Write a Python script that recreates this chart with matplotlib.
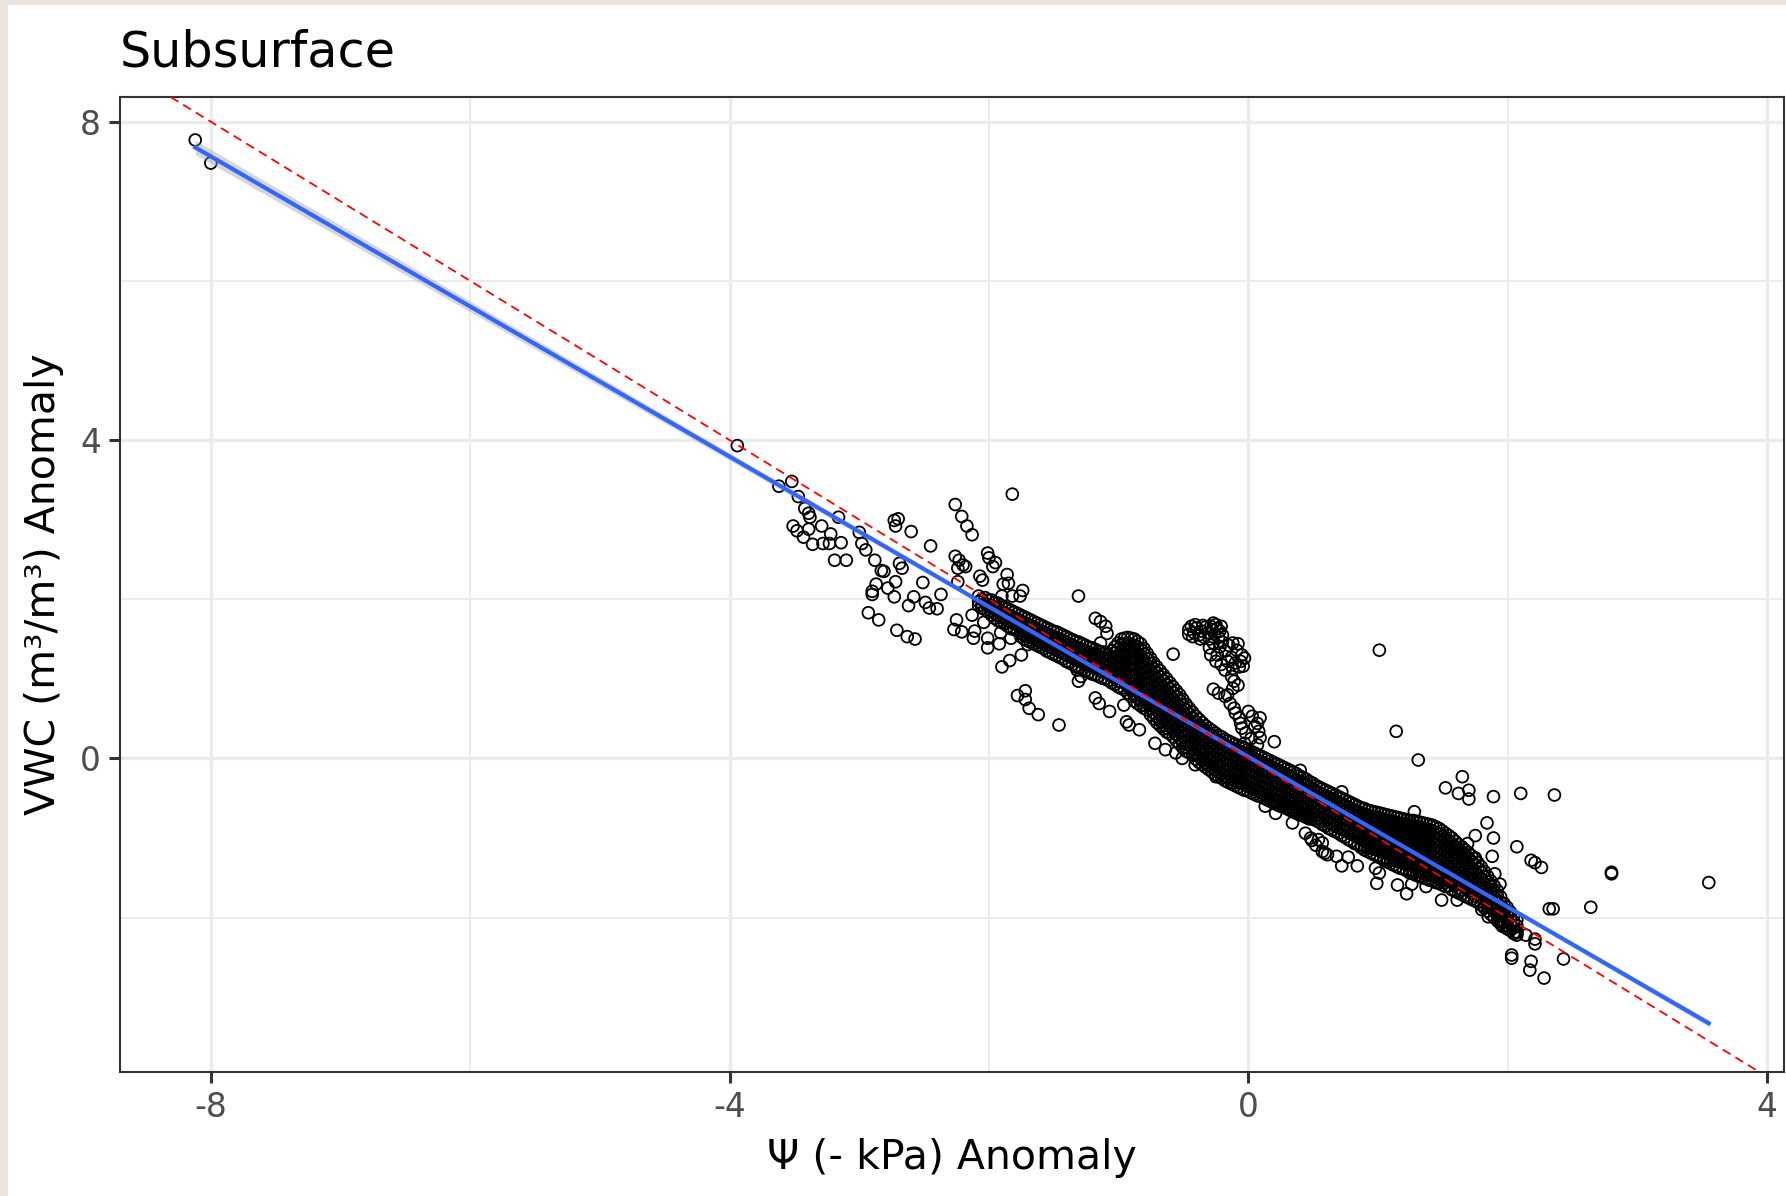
import numpy as np
import matplotlib.pyplot as plt
from matplotlib.patches import Rectangle

plt.rcParams['axes.unicode_minus'] = False

# ---- data (psi anomaly, vwc anomaly) ----

# two points far to the left
far_left = [(-8.12, 7.77), (-8.00, 7.48)]

# loose points in the upper left part of the cloud
upper_left = [
    (-3.94, 3.93),
    (-3.62, 3.42), (-3.52, 3.48), (-3.47, 3.29), (-3.42, 3.14), (-3.39, 3.08), (-3.38, 3.03),
    (-3.16, 3.03), (-3.51, 2.92), (-3.48, 2.86), (-3.43, 2.78), (-3.36, 2.69), (-3.28, 2.70),
    (-3.23, 2.70), (-3.22, 2.82), (-3.14, 2.71), (-3.19, 2.49), (-3.10, 2.49), (-3.39, 2.88),
    (-3.29, 2.92), (-3.00, 2.84), (-2.98, 2.70), (-2.95, 2.62), (-2.88, 2.49),
    (-2.73, 2.99), (-2.72, 2.92), (-2.70, 3.01), (-2.60, 2.85), (-2.45, 2.67),
    (-2.81, 2.35), (-2.83, 2.36), (-2.72, 2.22), (-2.78, 2.14), (-2.73, 2.03), (-2.67, 2.39),
    (-2.69, 2.45), (-2.87, 2.19), (-2.90, 2.10), (-2.90, 2.06),
    (-2.51, 2.21), (-2.58, 2.03), (-2.62, 1.92), (-2.49, 1.96), (-2.46, 1.89), (-2.40, 1.88),
    (-2.37, 2.06), (-2.93, 1.83), (-2.85, 1.74), (-2.71, 1.61), (-2.63, 1.53), (-2.57, 1.50),
    (-2.26, 3.19), (-2.21, 3.04), (-2.17, 2.92), (-2.13, 2.81), (-1.82, 3.32),
    (-2.26, 2.54), (-2.23, 2.49), (-2.24, 2.39), (-2.18, 2.41), (-2.20, 2.43), (-2.24, 2.22),
    (-2.07, 2.29), (-2.05, 2.24), (-2.01, 2.58), (-1.97, 2.41), (-2.00, 2.52), (-1.95, 2.46),
    (-1.86, 2.31), (-1.89, 2.19), (-1.85, 2.20), (-1.82, 2.04), (-1.90, 2.04), (-1.74, 2.11),
    (-1.76, 2.04), (-2.25, 1.74), (-2.27, 1.62), (-2.21, 1.59), (-2.13, 1.80), (-2.11, 1.60),
    (-2.12, 1.51), (-2.04, 1.71), (-2.01, 1.51), (-2.01, 1.39), (-1.91, 1.58), (-1.92, 1.44),
    (-1.83, 1.51), (-1.75, 1.30), (-1.70, 1.43), (-1.84, 1.23), (-1.90, 1.15),
    (-1.78, 0.79), (-1.72, 0.85), (-1.72, 0.74), (-1.69, 0.63), (-1.62, 0.55), (-1.46, 0.42),
    (-1.31, 2.04),
]

# loose points around the middle of the band
middle = [
    (-1.18, 1.76), (-1.14, 1.72), (-1.10, 1.66), (-1.09, 1.57), (-1.14, 1.45),
    (-1.32, 1.11), (-1.29, 1.03), (-1.31, 0.97), (-1.18, 0.76), (-1.15, 0.69), (-1.07, 0.59),
    (-0.96, 0.67), (-0.94, 0.46), (-0.92, 0.42), (-0.84, 0.36), (-0.72, 0.19), (-0.64, 0.11),
    (-0.56, 0.07), (-0.51, 0.00), (-0.41, -0.08), (-0.25, -0.23), (-0.12, -0.31),
    (0.13, -0.60), (0.21, -0.69), (0.34, -0.81),
    (-0.58, 1.31), (-0.27, 0.87), (0.20, 0.21), (0.40, -0.15), (0.44, -0.32), (0.72, -0.42),
    (1.01, 1.36), (1.14, 0.34),
]

# the knot of points sitting above the band near psi = -0.3
blob = [
    (-0.46, 1.62), (-0.44, 1.66), (-0.42, 1.58), (-0.40, 1.64), (-0.38, 1.55), (-0.36, 1.60),
    (-0.34, 1.52), (-0.33, 1.65), (-0.31, 1.58), (-0.29, 1.66), (-0.28, 1.62), (-0.26, 1.56),
    (-0.25, 1.68), (-0.24, 1.63), (-0.22, 1.60), (-0.21, 1.66), (-0.20, 1.55), (-0.46, 1.56),
    (-0.43, 1.53), (-0.37, 1.50), (-0.30, 1.50), (-0.23, 1.52), (-0.41, 1.68), (-0.35, 1.67),
    (-0.27, 1.70),
    (-0.12, 1.45), (-0.09, 1.36), (-0.05, 1.30), (-0.06, 1.22), (-0.07, 1.15), (-0.12, 1.13),
    (-0.18, 1.11), (-0.21, 1.18), (-0.25, 1.22), (-0.24, 1.30), (-0.29, 1.30), (-0.30, 1.39),
    (-0.27, 1.45), (-0.20, 1.46), (-0.15, 1.42), (-0.16, 1.22), (-0.13, 1.27), (-0.10, 1.20),
    (-0.18, 1.35), (-0.22, 1.40), (-0.08, 1.44), (-0.03, 1.26), (-0.04, 1.16),
]

# trail running down from the knot to the band
trail = [
    (-0.11, 0.97), (-0.12, 0.88), (-0.16, 0.80), (-0.18, 0.78), (-0.14, 0.69), (-0.11, 0.63),
    (-0.10, 0.57), (-0.07, 0.51), (-0.06, 0.44), (-0.05, 0.38), (-0.02, 0.32), (0.00, 0.59),
    (0.03, 0.53), (0.07, 0.44), (0.08, 0.34), (0.09, 0.26), (0.07, 0.17), (0.09, 0.51),
    (-0.03, 0.19), (-0.01, 0.07), (0.03, -0.02), (0.16, -0.08), (-0.23, 0.82), (-0.13, 1.03),
    (-0.08, 0.92), (0.05, 0.40), (0.02, 0.25),
]

# loose points on the right
right = [
    (1.31, -0.02), (1.28, -0.67), (1.52, -0.37), (1.65, -0.23), (1.62, -0.44), (1.70, -0.40),
    (1.70, -0.51), (1.89, -0.48), (2.10, -0.44), (2.36, -0.46), (1.84, -0.81), (1.89, -1.00),
    (1.75, -0.97), (2.07, -1.11), (1.69, -1.07), (1.88, -1.23), (1.75, -1.25), (1.90, -1.45),
    (1.94, -1.58), (2.18, -1.28), (2.21, -1.31), (2.26, -1.37), (2.80, -1.43), (2.80, -1.45),
    (2.32, -1.89), (2.35, -1.89), (2.64, -1.87), (2.21, -2.27), (2.21, -2.33), (2.03, -2.47),
    (2.03, -2.51), (2.18, -2.55), (2.17, -2.66), (2.28, -2.76), (2.43, -2.52), (3.55, -1.56),
    (0.44, -0.94), (0.48, -1.00), (0.52, -1.09), (0.54, -1.02), (0.57, -1.17), (0.61, -1.21),
    (0.68, -1.23), (0.77, -1.24), (0.72, -1.35), (0.84, -1.35), (0.98, -1.38), (1.01, -1.44),
    (0.99, -1.57), (1.15, -1.59), (1.22, -1.70), (1.26, -1.58), (1.37, -1.61), (1.49, -1.78),
    (1.61, -1.78), (0.59, -1.19), (0.49, -1.03), (0.57, -1.06),
    (1.80, -1.90), (1.85, -1.99), (1.93, -2.05), (1.96, -2.11), (2.01, -2.15), (2.07, -2.19),
    (2.14, -2.22),
]

# the dense band: one psi value per column, with the vwc values stacked in it
band_psi = [
    -2.08, -2.03, -1.98, -1.93, -1.88, -1.83, -1.78, -1.73, -1.68, -1.63, -1.58, -1.53,
    -1.48, -1.43, -1.38, -1.33, -1.28, -1.23, -1.18, -1.13, -1.08, -1.03, -0.98, -0.93,
    -0.88, -0.83, -0.78, -0.73, -0.68, -0.63, -0.58, -0.53, -0.48, -0.43, -0.38, -0.33,
    -0.28, -0.23, -0.18, -0.13, -0.08, -0.03, 0.02, 0.07, 0.12, 0.17, 0.22, 0.27,
    0.32, 0.37, 0.42, 0.47, 0.52, 0.57, 0.62, 0.67, 0.72, 0.77, 0.82, 0.87,
    0.92, 0.97, 1.02, 1.07, 1.12, 1.17, 1.22, 1.27, 1.32, 1.37, 1.42, 1.47,
    1.52, 1.57, 1.62, 1.67, 1.72, 1.77, 1.82, 1.87, 1.92, 1.97, 2.02, 2.07,
]
band_vwc = [
    [2.04, 1.97, 1.92],
    [2.02, 1.95, 1.87],
    [1.99, 1.92, 1.85, 1.80],
    [1.95, 1.88, 1.80, 1.73],
    [1.90, 1.83, 1.76, 1.69],
    [1.86, 1.79, 1.71, 1.63],
    [1.82, 1.75, 1.68, 1.60],
    [1.78, 1.71, 1.63, 1.55, 1.50],
    [1.74, 1.67, 1.59, 1.52, 1.46],
    [1.70, 1.62, 1.55, 1.48, 1.42],
    [1.66, 1.59, 1.52, 1.44, 1.38],
    [1.62, 1.55, 1.47, 1.40, 1.33],
    [1.59, 1.51, 1.44, 1.36, 1.29],
    [1.55, 1.48, 1.40, 1.32, 1.25],
    [1.51, 1.44, 1.36, 1.28, 1.20],
    [1.47, 1.40, 1.32, 1.24, 1.15],
    [1.44, 1.37, 1.29, 1.21, 1.12],
    [1.40, 1.33, 1.25, 1.17, 1.08],
    [1.37, 1.30, 1.22, 1.14, 1.05],
    [1.34, 1.27, 1.19, 1.10, 1.01],
    [1.31, 1.23, 1.15, 1.07, 0.98],
    [1.40, 1.33, 1.25, 1.17, 1.09, 1.01, 0.93],
    [1.50, 1.43, 1.35, 1.28, 1.20, 1.12, 1.04, 0.96, 0.88],
    [1.52, 1.45, 1.37, 1.30, 1.22, 1.14, 1.06, 0.98, 0.90, 0.82],
    [1.50, 1.42, 1.35, 1.27, 1.19, 1.11, 1.03, 0.95, 0.87, 0.79, 0.72],
    [1.44, 1.37, 1.29, 1.21, 1.13, 1.05, 0.97, 0.89, 0.81, 0.73, 0.66],
    [1.32, 1.25, 1.17, 1.09, 1.01, 0.93, 0.85, 0.77, 0.69, 0.61],
    [1.20, 1.13, 1.05, 0.97, 0.89, 0.81, 0.73, 0.65, 0.57, 0.50],
    [1.10, 1.03, 0.95, 0.87, 0.79, 0.71, 0.63, 0.55, 0.47, 0.41],
    [1.00, 0.93, 0.85, 0.77, 0.69, 0.61, 0.53, 0.45, 0.38, 0.33],
    [0.90, 0.83, 0.75, 0.67, 0.59, 0.51, 0.43, 0.35, 0.27],
    [0.80, 0.73, 0.65, 0.57, 0.49, 0.41, 0.33, 0.25, 0.18],
    [0.68, 0.61, 0.53, 0.45, 0.37, 0.29, 0.21, 0.14, 0.09],
    [0.58, 0.51, 0.43, 0.35, 0.27, 0.19, 0.11, 0.04],
    [0.49, 0.42, 0.34, 0.26, 0.18, 0.10, 0.02, -0.05],
    [0.41, 0.34, 0.26, 0.18, 0.10, 0.02, -0.06, -0.11],
    [0.35, 0.28, 0.20, 0.12, 0.04, -0.04, -0.11, -0.17],
    [0.29, 0.22, 0.14, 0.06, -0.02, -0.10, -0.17, -0.23],
    [0.24, 0.17, 0.09, 0.01, -0.07, -0.15, -0.22, -0.28],
    [0.20, 0.13, 0.05, -0.03, -0.11, -0.19, -0.26, -0.32],
    [0.16, 0.09, 0.01, -0.07, -0.15, -0.23, -0.30, -0.36],
    [0.13, 0.06, -0.02, -0.10, -0.18, -0.26, -0.33, -0.40],
    [0.09, 0.02, -0.06, -0.14, -0.22, -0.30, -0.37, -0.43],
    [0.05, -0.02, -0.10, -0.18, -0.26, -0.34, -0.41, -0.47],
    [0.01, -0.06, -0.14, -0.22, -0.30, -0.38, -0.45, -0.50],
    [-0.03, -0.10, -0.18, -0.26, -0.34, -0.42, -0.49, -0.54],
    [-0.07, -0.14, -0.22, -0.30, -0.38, -0.46, -0.53, -0.58],
    [-0.11, -0.18, -0.26, -0.34, -0.42, -0.50, -0.57, -0.61],
    [-0.15, -0.22, -0.30, -0.38, -0.46, -0.54, -0.61, -0.65],
    [-0.19, -0.27, -0.35, -0.43, -0.51, -0.59, -0.65, -0.69],
    [-0.24, -0.31, -0.39, -0.47, -0.55, -0.63, -0.69, -0.72],
    [-0.29, -0.36, -0.44, -0.52, -0.60, -0.68, -0.73, -0.76],
    [-0.34, -0.41, -0.49, -0.57, -0.65, -0.72, -0.78],
    [-0.38, -0.45, -0.53, -0.61, -0.69, -0.77, -0.83],
    [-0.42, -0.49, -0.57, -0.65, -0.73, -0.81, -0.88],
    [-0.46, -0.53, -0.61, -0.69, -0.77, -0.85, -0.92],
    [-0.50, -0.57, -0.65, -0.73, -0.81, -0.89, -0.97],
    [-0.54, -0.61, -0.69, -0.77, -0.85, -0.93, -1.02],
    [-0.58, -0.65, -0.73, -0.81, -0.89, -0.97, -1.07],
    [-0.62, -0.69, -0.77, -0.85, -0.93, -1.01, -1.09, -1.12],
    [-0.65, -0.72, -0.80, -0.88, -0.96, -1.04, -1.12, -1.17],
    [-0.67, -0.74, -0.82, -0.90, -0.98, -1.06, -1.14, -1.21],
    [-0.69, -0.76, -0.84, -0.92, -1.00, -1.08, -1.16, -1.25],
    [-0.71, -0.78, -0.86, -0.94, -1.02, -1.10, -1.18, -1.26, -1.30],
    [-0.73, -0.80, -0.88, -0.96, -1.04, -1.12, -1.20, -1.28, -1.34],
    [-0.75, -0.82, -0.90, -0.98, -1.06, -1.14, -1.22, -1.30, -1.38],
    [-0.77, -0.84, -0.92, -1.00, -1.08, -1.16, -1.24, -1.32, -1.41],
    [-0.78, -0.85, -0.93, -1.01, -1.09, -1.17, -1.25, -1.33, -1.41, -1.45],
    [-0.80, -0.87, -0.95, -1.03, -1.11, -1.19, -1.27, -1.35, -1.43, -1.48],
    [-0.82, -0.89, -0.97, -1.05, -1.13, -1.21, -1.29, -1.37, -1.45, -1.51],
    [-0.84, -0.91, -0.99, -1.07, -1.15, -1.23, -1.31, -1.39, -1.47, -1.54],
    [-0.88, -0.95, -1.03, -1.11, -1.19, -1.27, -1.35, -1.43, -1.51, -1.57],
    [-0.94, -1.01, -1.09, -1.17, -1.25, -1.33, -1.41, -1.49, -1.56, -1.61],
    [-1.00, -1.07, -1.15, -1.23, -1.31, -1.39, -1.47, -1.55, -1.65],
    [-1.08, -1.15, -1.23, -1.31, -1.39, -1.47, -1.55, -1.63, -1.69],
    [-1.15, -1.22, -1.30, -1.38, -1.46, -1.54, -1.62, -1.73],
    [-1.22, -1.29, -1.37, -1.45, -1.53, -1.61, -1.69, -1.77],
    [-1.31, -1.38, -1.46, -1.54, -1.62, -1.70, -1.81],
    [-1.42, -1.49, -1.57, -1.65, -1.73, -1.81, -1.88],
    [-1.54, -1.61, -1.69, -1.77, -1.85, -1.96],
    [-1.66, -1.73, -1.81, -1.89, -1.97, -2.04],
    [-1.82, -1.89, -1.97, -2.05, -2.11],
    [-1.93, -2.00, -2.08, -2.16],
    [-2.03, -2.10, -2.18, -2.22],
]

# a second set of band columns lying between the first ones
band2_psi = [
    -2.055, -2.005, -1.955, -1.905, -1.855, -1.805, -1.755, -1.705, -1.655, -1.605, -1.555,
    -1.505, -1.455, -1.405, -1.355, -1.305, -1.255, -1.205, -1.155, -1.105, -1.055, -1.005,
    -0.955, -0.905, -0.855, -0.805, -0.755, -0.705, -0.655, -0.605, -0.555, -0.505, -0.455,
    -0.405, -0.355, -0.305, -0.255, -0.205, -0.155, -0.105, -0.055, -0.005, 0.045, 0.095,
    0.145, 0.195, 0.245, 0.295, 0.345, 0.395, 0.445, 0.495, 0.545, 0.595, 0.645,
    0.695, 0.745, 0.795, 0.845, 0.895, 0.945, 0.995, 1.045, 1.095, 1.145, 1.195,
    1.245, 1.295, 1.345, 1.395, 1.445, 1.495, 1.545, 1.595, 1.645, 1.695, 1.745,
    1.795, 1.845, 1.895, 1.945, 1.995, 2.045,
]
band2_vwc = [
    [2.00, 1.93, 1.89],
    [1.99, 1.91, 1.84],
    [1.96, 1.89, 1.82, 1.76],
    [1.92, 1.85, 1.77, 1.71],
    [1.88, 1.80, 1.73, 1.66],
    [1.84, 1.76, 1.69, 1.62],
    [1.80, 1.72, 1.65, 1.58, 1.53],
    [1.76, 1.69, 1.61, 1.54, 1.48],
    [1.72, 1.65, 1.57, 1.50, 1.44],
    [1.68, 1.61, 1.53, 1.46, 1.40],
    [1.64, 1.57, 1.49, 1.42, 1.35],
    [1.60, 1.53, 1.45, 1.38, 1.31],
    [1.57, 1.50, 1.42, 1.34, 1.27],
    [1.53, 1.46, 1.38, 1.30, 1.22],
    [1.49, 1.42, 1.34, 1.26, 1.18],
    [1.46, 1.38, 1.30, 1.22, 1.14],
    [1.42, 1.35, 1.27, 1.19, 1.10],
    [1.39, 1.31, 1.23, 1.15, 1.06],
    [1.35, 1.28, 1.20, 1.12, 1.03],
    [1.32, 1.25, 1.17, 1.08, 1.00],
    [1.35, 1.27, 1.19, 1.11, 1.03, 0.95],
    [1.45, 1.37, 1.29, 1.21, 1.13, 1.05, 0.97, 0.90],
    [1.51, 1.44, 1.36, 1.28, 1.20, 1.12, 1.04, 0.96, 0.86],
    [1.51, 1.43, 1.35, 1.27, 1.19, 1.11, 1.03, 0.95, 0.87, 0.78],
    [1.47, 1.40, 1.32, 1.24, 1.16, 1.08, 1.00, 0.92, 0.84, 0.76, 0.69],
    [1.38, 1.31, 1.23, 1.15, 1.07, 0.99, 0.91, 0.83, 0.75, 0.67, 0.63],
    [1.26, 1.19, 1.11, 1.03, 0.95, 0.87, 0.79, 0.71, 0.63, 0.55],
    [1.15, 1.08, 1.00, 0.92, 0.84, 0.76, 0.68, 0.60, 0.52, 0.45],
    [1.05, 0.98, 0.90, 0.82, 0.74, 0.66, 0.58, 0.50, 0.42, 0.37],
    [0.95, 0.88, 0.80, 0.72, 0.64, 0.56, 0.48, 0.40, 0.31],
    [0.85, 0.78, 0.70, 0.62, 0.54, 0.46, 0.38, 0.30, 0.22],
    [0.74, 0.67, 0.59, 0.51, 0.43, 0.35, 0.27, 0.19, 0.13],
    [0.63, 0.56, 0.48, 0.40, 0.32, 0.24, 0.16, 0.07],
    [0.53, 0.46, 0.38, 0.30, 0.22, 0.14, 0.06, -0.01],
    [0.45, 0.38, 0.30, 0.22, 0.14, 0.06, -0.02, -0.08],
    [0.38, 0.31, 0.23, 0.15, 0.07, -0.01, -0.08, -0.14],
    [0.32, 0.25, 0.17, 0.09, 0.01, -0.07, -0.14, -0.20],
    [0.27, 0.20, 0.12, 0.04, -0.04, -0.12, -0.19, -0.25],
    [0.22, 0.15, 0.07, -0.01, -0.09, -0.17, -0.24, -0.30],
    [0.18, 0.11, 0.03, -0.05, -0.13, -0.21, -0.28, -0.34],
    [0.15, 0.08, 0.00, -0.08, -0.16, -0.24, -0.31, -0.38],
    [0.11, 0.04, -0.04, -0.12, -0.20, -0.28, -0.35, -0.41],
    [0.07, 0.00, -0.08, -0.16, -0.24, -0.32, -0.39, -0.45],
    [0.03, -0.04, -0.12, -0.20, -0.28, -0.36, -0.43, -0.48],
    [-0.01, -0.08, -0.16, -0.24, -0.32, -0.40, -0.47, -0.52],
    [-0.05, -0.12, -0.20, -0.28, -0.36, -0.44, -0.51, -0.56],
    [-0.09, -0.16, -0.24, -0.32, -0.40, -0.48, -0.55, -0.60],
    [-0.13, -0.20, -0.28, -0.36, -0.44, -0.52, -0.59, -0.63],
    [-0.17, -0.24, -0.32, -0.40, -0.48, -0.56, -0.63, -0.67],
    [-0.22, -0.29, -0.37, -0.45, -0.53, -0.61, -0.67, -0.71],
    [-0.26, -0.33, -0.41, -0.49, -0.57, -0.65, -0.71, -0.74],
    [-0.31, -0.38, -0.46, -0.54, -0.62, -0.70, -0.76],
    [-0.36, -0.43, -0.51, -0.59, -0.67, -0.75, -0.80],
    [-0.40, -0.47, -0.55, -0.63, -0.71, -0.79, -0.85],
    [-0.44, -0.51, -0.59, -0.67, -0.75, -0.83, -0.90],
    [-0.48, -0.55, -0.63, -0.71, -0.79, -0.87, -0.94],
    [-0.52, -0.59, -0.67, -0.75, -0.83, -0.91, -0.99],
    [-0.56, -0.63, -0.71, -0.79, -0.87, -0.95, -1.04],
    [-0.60, -0.67, -0.75, -0.83, -0.91, -0.99, -1.08],
    [-0.63, -0.70, -0.78, -0.86, -0.94, -1.02, -1.10, -1.15],
    [-0.66, -0.73, -0.81, -0.89, -0.97, -1.05, -1.13, -1.19],
    [-0.68, -0.75, -0.83, -0.91, -0.99, -1.07, -1.15, -1.23],
    [-0.70, -0.77, -0.85, -0.93, -1.01, -1.09, -1.17, -1.25, -1.28],
    [-0.72, -0.79, -0.87, -0.95, -1.03, -1.11, -1.19, -1.27, -1.32],
    [-0.74, -0.81, -0.89, -0.97, -1.05, -1.13, -1.21, -1.29, -1.36],
    [-0.76, -0.83, -0.91, -0.99, -1.07, -1.15, -1.23, -1.31, -1.39],
    [-0.78, -0.85, -0.93, -1.01, -1.09, -1.17, -1.25, -1.33, -1.41, -1.44],
    [-0.79, -0.86, -0.94, -1.02, -1.10, -1.18, -1.26, -1.34, -1.42, -1.47],
    [-0.81, -0.88, -0.96, -1.04, -1.12, -1.20, -1.28, -1.36, -1.44, -1.50],
    [-0.83, -0.90, -0.98, -1.06, -1.14, -1.22, -1.30, -1.38, -1.46, -1.53],
    [-0.86, -0.93, -1.01, -1.09, -1.17, -1.25, -1.33, -1.41, -1.49, -1.56],
    [-0.91, -0.98, -1.06, -1.14, -1.22, -1.30, -1.38, -1.46, -1.54, -1.59],
    [-0.97, -1.04, -1.12, -1.20, -1.28, -1.36, -1.44, -1.52, -1.60],
    [-1.04, -1.11, -1.19, -1.27, -1.35, -1.43, -1.51, -1.59, -1.67],
    [-1.11, -1.18, -1.26, -1.34, -1.42, -1.50, -1.58, -1.66, -1.71],
    [-1.18, -1.25, -1.33, -1.41, -1.49, -1.57, -1.65, -1.75],
    [-1.26, -1.33, -1.41, -1.49, -1.57, -1.65, -1.73, -1.79],
    [-1.36, -1.43, -1.51, -1.59, -1.67, -1.75, -1.84],
    [-1.48, -1.55, -1.63, -1.71, -1.79, -1.87, -1.92],
    [-1.60, -1.67, -1.75, -1.83, -1.91, -2.00],
    [-1.74, -1.81, -1.89, -1.97, -2.05, -2.08],
    [-1.87, -1.94, -2.02, -2.10, -2.14],
    [-1.98, -2.05, -2.13, -2.20],
]

# linear fit as drawn in the picture (slope, intercept) and the half width
# of its grey 95% band at the far left end
fit_slope = -0.943
fit_intercept = 0.02
ci_half_left = 0.09

# ---- put all points together ----
loose = np.array(far_left + upper_left + middle + blob + trail + right)
cols_psi = band_psi + band2_psi
cols_vwc = band_vwc + band2_vwc
psi = np.concatenate([loose[:, 0]] + [np.full(len(v), p) for p, v in zip(cols_psi, cols_vwc)])
vwc = np.concatenate([loose[:, 1]] + [np.array(v) for v in cols_vwc])

# fit line over the range of the data, band shaped like an lm confidence band
xfit = np.linspace(psi.min(), psi.max(), 200)
yfit = fit_intercept + fit_slope * xfit
n = len(psi)
lev = np.sqrt(1 / n + (xfit - psi.mean()) ** 2 / np.sum((psi - psi.mean()) ** 2))
half = ci_half_left * lev / lev[0]

# ---- figure ----
fig = plt.figure(figsize=(17.86, 11.96), dpi=100)
fig.patch.set_facecolor('#EDE5DD')
fig.add_artist(Rectangle((8 / 1786, 0), 1, 1 - 5 / 1196, transform=fig.transFigure,
                         facecolor='white', edgecolor='none', zorder=-10))
ax = fig.add_axes([120 / 1786, 1 - 1072 / 1196, 1664 / 1786, 975 / 1196])

ax.scatter(psi, vwc, s=72, facecolors='none', edgecolors='black', linewidths=1.3, zorder=3)
ax.fill_between(xfit, yfit - half, yfit + half, color='#999999', alpha=0.4,
                linewidth=0, zorder=4)
ax.plot(xfit, yfit, color='#3366FF', lw=3.0, zorder=5)
ax.axline((0, 0), slope=-1, color='red', lw=1.3, linestyle=(0, (5, 3.2)), zorder=6)

ax.set_xlim(-8.70, 4.13)
ax.set_ylim(-3.94, 8.31)
ax.set_xticks([-8, -4, 0, 4])
ax.set_yticks([0, 4, 8])
ax.set_xticks([-6, -2, 2], minor=True)
ax.set_yticks([-2, 2, 6], minor=True)
ax.grid(which='major', color='#EBEBEB', lw=2.4, zorder=0)
ax.grid(which='minor', color='#EBEBEB', lw=1.4, zorder=0)
ax.set_axisbelow(True)
ax.tick_params(which='major', length=7.6, width=2.2, color='#333333', labelsize=23.5,
               labelcolor='#4D4D4D', pad=6)
ax.tick_params(which='minor', length=0)
for sp in ax.spines.values():
    sp.set_color('#333333')
    sp.set_linewidth(1.5)

ax.set_xlabel('Ψ (- kPa) Anomaly', fontsize=29.5, labelpad=10)
ax.set_ylabel('VWC (m³/m³) Anomaly', fontsize=29.5, labelpad=12)
ax.set_title('Subsurface', loc='left', fontsize=35.5, pad=22)

fig.savefig('out.png', dpi=100, facecolor=fig.get_facecolor())
